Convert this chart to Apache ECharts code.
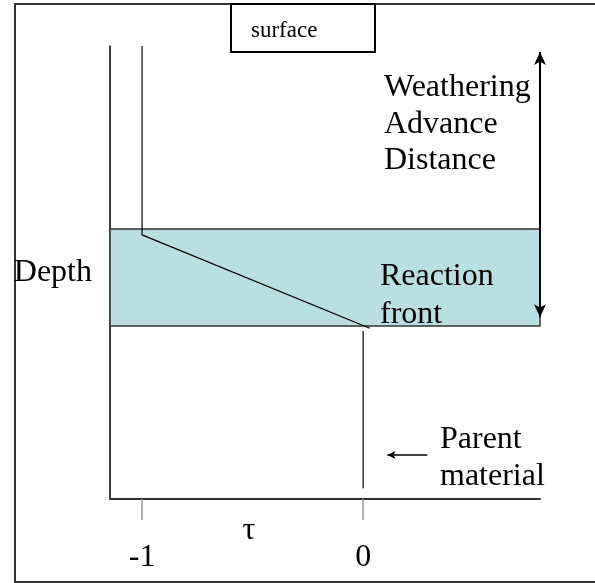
<!DOCTYPE html>
<html>
<head>
<meta charset="utf-8">
<title>Weathering profile</title>
<script src="https://cdn.jsdelivr.net/npm/echarts@6/dist/echarts.min.js"></script>
<style>
  html, body { margin: 0; padding: 0; background: #fff; }
  #chart { width: 595px; height: 583px; }
</style>
</head>
<body>
<div id="chart"></div>
<script>
  // tau axis ticks
  const tauTicks = [-1, 0]
  // weathered profile: tau vs depth (depth grows downward)
  const profileTau = [-1, -1, 0.03]
  const profileDepth = [0, 4.17, 6.23]
  // parent material below the front
  const parentTau = [0, 0]
  const parentDepth = [6.29, 9.76]
  // reaction front zone
  const zoneTau = [-1.145, 0.8]
  const zoneDepth = [4.04, 6.18]
  // weathering advance distance arrow
  const advanceTau = [0.8, 0.8]
  const advanceDepth = [0.13, 5.99]
  // arrow pointing at parent material
  const pointerTau = [0.29, 0.11]
  const pointerDepth = [9.03, 9.03]

  const serif = '"Liberation Serif", "Times New Roman", serif'

  const zip = (xs, ys) => xs.map((x, i) => [x, ys[i]])

  const myChart = echarts.init(document.getElementById('chart'))

  function label(text, x, y, size, align) {
    return {
      type: 'text',
      x: x,
      y: y,
      z: 100,
      silent: true,
      style: {
        text: text,
        font: size + 'px ' + serif,
        fill: '#000',
        align: align || 'left',
        verticalAlign: 'middle'
      }
    }
  }

  myChart.setOption({
    animation: false,
    grid: { left: 110, right: 55, top: 46, bottom: 84 },
    xAxis: {
      type: 'value',
      min: -1.145,
      max: 0.8,
      axisLine: { onZero: false, lineStyle: { color: '#333', width: 2 } },
      axisTick: { show: true, customValues: tauTicks, length: 21, lineStyle: { color: '#999', width: 1.5 } },
      axisLabel: { customValues: tauTicks, margin: 43, fontSize: 32, fontFamily: serif, color: '#000' },
      splitLine: { show: false }
    },
    yAxis: {
      type: 'value',
      inverse: true,
      min: 0,
      max: 10,
      name: 'Depth',
      nameLocation: 'middle',
      nameRotate: 0,
      nameGap: 18,
      nameTextStyle: { fontSize: 32, fontFamily: serif, color: '#000', padding: [4, 0, 0, 0] },
      axisLine: { show: true, onZero: false, lineStyle: { color: '#000', width: 1.5 } },
      axisTick: { show: false },
      axisLabel: { show: false },
      splitLine: { show: false }
    },
    series: [
      {
        name: 'front',
        type: 'line',
        data: zip(profileTau, profileDepth),
        symbol: 'none',
        z: 3,
        lineStyle: { color: '#000', width: 1.2 },
        markArea: {
          silent: true,
          itemStyle: { color: '#badfe2', borderColor: '#333', borderWidth: 1.5 },
          data: [[
            { coord: [zoneTau[0], zoneDepth[0]] },
            { coord: [zoneTau[1], zoneDepth[1]] }
          ]]
        },
        markLine: {
          silent: true,
          symbol: ['arrow', 'arrow'],
          symbolSize: [9, 13],
          label: { show: false },
          lineStyle: { color: '#000', width: 2, type: 'solid' },
          data: [[
            { coord: [advanceTau[0], advanceDepth[0]] },
            { coord: [advanceTau[1], advanceDepth[1]] }
          ]]
        }
      },
      {
        name: 'parent',
        type: 'line',
        data: zip(parentTau, parentDepth),
        symbol: 'none',
        z: 3,
        lineStyle: { color: '#000', width: 1.2 },
        markLine: {
          silent: true,
          symbol: ['none', 'arrow'],
          symbolSize: [6, 8],
          label: { show: false },
          lineStyle: { color: '#000', width: 1.5, type: 'solid' },
          data: [[
            { coord: [pointerTau[0], pointerDepth[0]] },
            { coord: [pointerTau[1], pointerDepth[1]] }
          ]]
        }
      }
    ],
    graphic: [
      // outer frame
      {
        type: 'rect',
        silent: true,
        shape: { x: 15, y: 4, width: 590, height: 578 },
        style: { fill: 'none', stroke: '#333', lineWidth: 2 }
      },
      // surface box
      {
        type: 'rect',
        silent: true,
        z: 50,
        shape: { x: 231, y: 4, width: 144, height: 48 },
        style: { fill: '#fff', stroke: '#000', lineWidth: 2 }
      },
      label('surface', 251, 31, 23),
      label('Weathering', 384, 88, 32),
      label('Advance', 384, 125, 32),
      label('Distance', 384, 161, 32),
      label('Reaction', 380, 277, 32),
      label('front', 380, 315, 32),
      label('Parent', 440, 440, 32),
      label('material', 440, 477, 32),
      label('τ', 249, 531, 32, 'center')
    ]
  })
</script>
</body>
</html>
